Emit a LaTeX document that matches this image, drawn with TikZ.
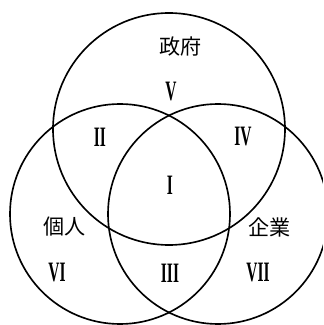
\documentclass[tikz,border=0pt]{standalone}
\usepackage{fontspec}
\setmainfont{Liberation Serif}
\newfontfamily\jpfont{Noto Sans CJK JP}
\usepackage{tikz}

\begin{document}
\begin{tikzpicture}[
      x=0.03cm, y=0.03cm,
      set/.style={draw=black, line width=1.4pt},
      sector/.style={font=\jpfont\fontsize{18}{20}\selectfont, inner sep=0pt},
      region/.style={font=\bfseries\fontsize{24}{26}\selectfont, xscale=0.55, inner sep=0pt}
    ]
      \useasboundingbox (0,0) rectangle (323,325);
      \clip (0,0) rectangle (323,325);

      % the three circles
      \draw[set] (169,196) circle (116);
      \draw[set] (120,111) circle (110);
      \draw[set] (218,111) circle (110);

      % circle names
      \node[sector] (gov) at (181,278) {政府};
      \node[sector] (ind) at (65,98) {個人};
      \node[sector] (firm) at (270,98) {企業};

      % region numbers
      \node[region] (r1) at (170,140) {I};
      \node[region] (r2) at (100,188) {II};
      \node[region] (r3) at (170,52) {III};
      \node[region] (r4) at (243,188) {IV};
      \node[region] (r5) at (171,233) {V};
      \node[region] (r6) at (57,52) {VI};
      \node[region] (r7) at (258,52) {VII};
    \end{tikzpicture}
\end{document}
